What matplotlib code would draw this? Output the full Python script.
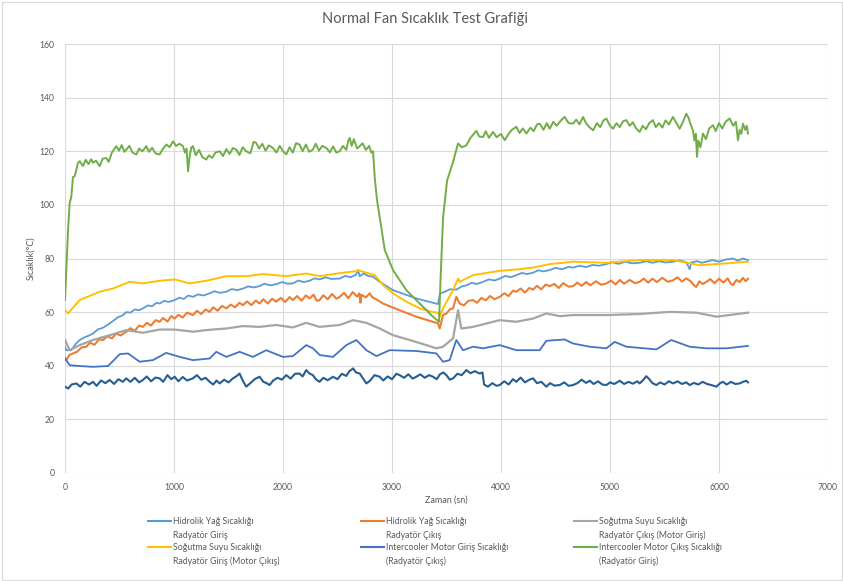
import matplotlib
matplotlib.use("Agg")
import matplotlib.pyplot as plt
from matplotlib.lines import Line2D
from matplotlib.patches import Rectangle

plt.rcParams['font.family'] = ['Lato', 'DejaVu Sans']

# ---------------- data ----------------
# Hidrolik Yağ Sıcaklığı - Radyatör Giriş (light blue)
lb_t = [0, 12, 58, 95, 135, 175, 215, 257, 300, 350, 410, 450, 490, 530, 562, 600, 640, 680, 715, 760, 800, 840,
        868, 910, 950, 1006, 1050, 1090, 1130, 1174, 1220, 1270, 1327, 1370, 1420, 1480, 1530, 1580, 1633, 1680,
        1730, 1785, 1830, 1880, 1938, 1990, 2040, 2091, 2140, 2190, 2244, 2290, 2337, 2390, 2440, 2520, 2570,
        2620, 2670, 2688, 2704, 2740, 2780, 2826, 2887, 3009, 3223, 3422, 3440, 3480, 3530, 3590, 3640, 3682,
        3730, 3780, 3835, 3890, 3940, 3988, 4040, 4090, 4141, 4190, 4240, 4294, 4340, 4390, 4447, 4500, 4560,
        4620, 4661, 4720, 4780, 4840, 4900, 4967, 5020, 5080, 5140, 5200, 5272, 5330, 5390, 5450, 5510, 5578,
        5640, 5700, 5731, 5745, 5800, 5840, 5884, 5940, 6000, 6060, 6129, 6170, 6220, 6266]
lb_v = [47, 45.8, 45.8, 48, 49.6, 50.5, 51.2, 52, 53.5, 54.2, 55.8, 57, 58.2, 58.8, 60, 59.8, 61, 60.7, 61.4, 62.5,
        62.2, 63.5, 63.2, 64.2, 63.8, 64.5, 65.4, 64.9, 66.2, 65.7, 66.6, 66.2, 67, 67.8, 67.2, 67.6, 68.6, 68.2,
        68.8, 69.6, 69.2, 69.7, 70.6, 70, 70.4, 71.2, 70.6, 70.7, 71.8, 71.2, 71.7, 72.6, 72.2, 73, 72.4, 72.5,
        73.5, 73, 74, 75.7, 73.4, 74.4, 73.5, 73.2, 71.3, 68.2, 65.1, 63, 67, 67.5, 68.5, 68.4, 69.6, 70, 70.9,
        70.5, 71.3, 72.2, 71.8, 72.5, 73.5, 73, 73.8, 74.6, 74.2, 74.7, 75.6, 75.2, 75.7, 76.5, 76, 76.9, 76.6,
        77.3, 76.8, 77.6, 77.3, 77.9, 78.6, 78, 78.8, 78.2, 78.4, 79, 78.4, 79, 78.5, 78.8, 79.3, 78.6, 76, 78.5,
        79, 78.4, 78.8, 79.4, 78.8, 79.6, 80, 79.2, 80, 79.4]

# Hidrolik Yağ Sıcaklığı - Radyatör Çıkış (orange)
or_t = [0, 12, 40, 73, 110, 150, 196, 230, 270, 310, 349, 390, 430, 470, 510, 562, 600, 640, 680, 715, 750, 790,
        830, 868, 900, 940, 975, 1006, 1040, 1080, 1120, 1174, 1210, 1250, 1290, 1327, 1360, 1400, 1440, 1480,
        1520, 1560, 1600, 1633, 1670, 1710, 1750, 1785, 1820, 1860, 1900, 1938, 1980, 2020, 2060, 2091, 2130,
        2170, 2210, 2244, 2280, 2310, 2335, 2370, 2410, 2450, 2490, 2520, 2560, 2600, 2640, 2680, 2700, 2704,
        2710, 2720, 2760, 2796, 2820, 2842, 2918, 3070, 3223, 3422, 3438, 3468, 3500, 3530, 3560, 3590, 3621,
        3660, 3700, 3743, 3780, 3820, 3860, 3900, 3940, 3988, 4030, 4070, 4110, 4141, 4180, 4220, 4260, 4294,
        4330, 4370, 4410, 4447, 4490, 4530, 4570, 4620, 4661, 4700, 4740, 4780, 4820, 4870, 4920, 4967, 5010,
        5050, 5090, 5130, 5180, 5230, 5272, 5310, 5350, 5390, 5430, 5480, 5530, 5578, 5620, 5660, 5700, 5740,
        5770, 5792, 5820, 5850, 5884, 5920, 5960, 6000, 6040, 6080, 6110, 6129, 6160, 6190, 6220, 6245, 6266]
or_v = [43, 42.1, 44, 44.6, 45.2, 46.8, 47.1, 48.6, 47.8, 49.8, 49.6, 51, 50.2, 52, 51.3, 52.7, 54, 53, 55, 54.5,
        56, 55, 57, 56.4, 57.8, 56.5, 58.5, 57.6, 59, 58, 59.8, 58.9, 60.5, 59.3, 61, 60.1, 61.8, 60.5, 62.3,
        61.4, 62.8, 61.8, 63.5, 62.6, 64, 62.6, 64.3, 63.2, 64.8, 63.2, 65, 63.9, 65.3, 63.8, 65.6, 64.5, 66,
        64.3, 66.2, 65.1, 66.5, 64.2, 64.5, 66.3, 64.8, 66.8, 65, 65.7, 67.2, 65.2, 67.5, 65.8, 67, 65.7, 63.5,
        66.5, 65.5, 67, 65.5, 65.1, 63.2, 60.7, 58.3, 55.8, 53.9, 58.9, 59.5, 61, 61.4, 65.7, 63.2, 62.5, 64.2,
        64.5, 63.5, 65.3, 64.4, 66, 64.8, 65.7, 67, 66, 68, 67.6, 68.8, 67.3, 69, 68.4, 69.8, 68.5, 70.3, 69.7,
        70.5, 69, 70.8, 69.5, 69.7, 71, 69.8, 71.2, 70, 71.5, 70.2, 70.7, 71.8, 70.3, 72, 70.6, 72, 70.8, 71.3,
        72.5, 71, 72.5, 71.2, 72.8, 71.3, 71.9, 73, 71.4, 72.6, 71.5, 70, 69.4, 71.5, 70.5, 71.3, 72.3, 70.8,
        72.5, 71, 72.6, 70.5, 70.1, 72, 71.2, 72.8, 71.5, 72.5]

# Soğutma Suyu Sıcaklığı - Radyatör Çıkış (Motor Giriş) (gray)
gr_t = [0, 43, 135, 257, 410, 562, 715, 868, 1006, 1174, 1296, 1480, 1633, 1785, 1938, 2091, 2213, 2335, 2520,
        2643, 2765, 2887, 3009, 3162, 3315, 3407, 3468, 3560, 3606, 3636, 3743, 3988, 4141, 4294, 4416, 4539,
        4661, 4967, 5272, 5547, 5792, 5976, 6266]
gr_v = [49.6, 45.8, 47.7, 49.6, 51.4, 53.3, 52.3, 53.5, 53.5, 52.7, 53.3, 53.9, 54.8, 54.5, 55.2, 54.3, 56, 54.5, 55.2,
        57, 56, 53.9, 51.4, 49.6, 47.7, 46.5, 47.1, 50.2, 60.7, 53.9, 54.5, 57, 56.4, 57.6, 59.5, 58.5,
        58.9, 58.9, 59.3, 60.1, 59.8, 58.3, 59.8]

# Soğutma Suyu Sıcaklığı - Radyatör Giriş (Motor Çıkış) (yellow)
ye_t = [0, 27, 135, 318, 440, 593, 715, 868, 1006, 1143, 1296, 1480, 1663, 1816, 2030, 2213, 2337, 2459, 2612,
        2704, 2765, 2842, 2918, 3009, 3131, 3254, 3376, 3422, 3438, 3468, 3560, 3606, 3621, 3743, 3988, 4141,
        4294, 4447, 4661, 4967, 5272, 5578, 5823, 6037, 6266]
ye_v = [60.7, 59.5, 64.5, 67.6, 68.8, 71.3, 70.7, 71.7, 72.2, 70.7, 71.7, 73.4, 73.4, 74.2, 73.4, 74.4, 73.4, 74.2, 75,
        75.4, 74.7, 73.8, 70.1, 67, 63.9, 61.4, 60, 59.8, 58.3, 61.4, 68.2, 72.5, 71.3, 73.8, 75.4, 75.9,
        76.6, 77.9, 78.8, 78.4, 79.4, 79.4, 77.5, 78.1, 78.8]

# Intercooler Motor Giriş Sıcaklığı (Radyatör Çıkış) (medium blue)
mb_t = [0, 43, 135, 257, 395, 502, 578, 685, 807, 929, 1052, 1174, 1327, 1388, 1480, 1602, 1724, 1846, 1999,
        2091, 2213, 2275, 2337, 2459, 2581, 2673, 2765, 2857, 2979, 3223, 3407, 3468, 3529, 3590, 3651, 3743,
        3835, 3988, 4141, 4355, 4416, 4584, 4661, 4814, 4967, 5043, 5150, 5425, 5562, 5731, 5884, 6068, 6266]
mb_v = [42.7, 40.2, 39.9, 39.6, 39.9, 44.3, 44.6, 41.5, 42.1, 44.8, 43.3, 42.1, 42.7, 45.2, 43.3, 45.2, 43.3, 45.8, 43.3,
        43.6, 47.7, 46.5, 44, 43.3, 47.7, 49.6, 45.8, 43.6, 45.8, 45.5, 44.6, 41.5, 42.1, 49.6, 45.8, 47.1,
        46.5, 47.7, 45.8, 45.8, 49.3, 49.8, 48.3, 47.1, 46.5, 48.9, 47.1, 46.1, 49.6, 47.1, 46.5, 46.5, 47.4]

# unlabeled dark-blue series
db_t = [0, 30, 60, 104, 140, 180, 220, 257, 290, 330, 370, 410, 450, 490, 530, 562, 600, 640, 680, 715, 750, 790,
        830, 868, 900, 940, 975, 1006, 1040, 1080, 1120, 1174, 1210, 1250, 1290, 1327, 1360, 1390, 1419, 1460,
        1500, 1541, 1570, 1602, 1630, 1663, 1700, 1740, 1785, 1820, 1850, 1877, 1910, 1950, 1990, 2030, 2070,
        2110, 2152, 2180, 2213, 2240, 2274, 2300, 2335, 2370, 2410, 2459, 2500, 2540, 2580, 2610, 2643, 2670,
        2704, 2730, 2765, 2800, 2840, 2887, 2920, 2960, 3000, 3040, 3070, 3110, 3150, 3190, 3223, 3260, 3300,
        3340, 3376, 3410, 3440, 3470, 3499, 3530, 3560, 3600, 3640, 3682, 3720, 3760, 3804, 3830, 3845, 3880,
        3920, 3960, 3988, 4030, 4070, 4110, 4141, 4180, 4220, 4260, 4294, 4330, 4370, 4416, 4450, 4490, 4539,
        4580, 4620, 4661, 4700, 4740, 4780, 4814, 4850, 4890, 4930, 4967, 5000, 5040, 5089, 5130, 5170, 5210,
        5250, 5272, 5300, 5333, 5360, 5390, 5425, 5460, 5500, 5540, 5578, 5620, 5660, 5700, 5731, 5770, 5810,
        5850, 5890, 5930, 5976, 6010, 6037, 6070, 6110, 6150, 6190, 6220, 6251, 6266]
db_v = [32.2, 31.5, 33, 33.4, 32.2, 34, 33, 34, 32.5, 34.5, 33.5, 34.7, 33.2, 35, 34, 35.3, 34, 35.5, 33.8, 34.7,
        36, 34.2, 35.6, 35.3, 34, 36.5, 35, 35.9, 34.2, 35.8, 34.5, 35.3, 36.5, 34.8, 35.5, 34, 33, 34.5, 33.4,
        34.8, 33.8, 35.3, 36, 37.1, 34.5, 32.2, 33.5, 35, 35.9, 34, 33.5, 32.8, 34.5, 35.5, 34.8, 36.5, 35.2, 37,
        37.1, 36, 38.4, 37.2, 36.5, 35, 34, 35.5, 34.6, 35.9, 35, 37, 36.2, 38, 39, 37.5, 37.1, 35.5, 33.4, 34.5,
        36.5, 35.9, 34.5, 36, 35, 37, 36.5, 35.5, 36.8, 35.2, 35.9, 36.8, 35.5, 36.5, 35.9, 35, 36.8, 37.5, 36.5,
        34.8, 35.3, 37, 36.5, 38.4, 37.2, 38, 37.1, 37.5, 33, 32.2, 33.5, 32.5, 32.8, 34.2, 33, 35, 34, 35.6,
        33.8, 34.8, 35.3, 33.5, 34, 32.2, 33.5, 32.6, 32.8, 33.8, 32.5, 32.8, 33.5, 34.8, 33.6, 34.4, 33.2, 34.2,
        33, 32.8, 33.8, 33.2, 34.4, 33.2, 34, 33.3, 34.2, 33.4, 34.5, 36.1, 35, 33.5, 32.8, 33.8, 33, 34.2, 33.4,
        34.2, 33.2, 33.8, 32.8, 33.6, 33, 34, 33.2, 32.8, 32.2, 33.5, 34, 33, 34, 33.2, 33.4, 34, 34.4, 33.8]

# Intercooler Motor Çıkış Sıcaklığı (Radyatör Giriş) (green)
gn_t = [0, 28, 43, 58, 73, 89, 119, 135, 165, 190, 215, 240, 257, 285, 318, 345, 379, 400, 430, 471, 495, 520, 545,
        563, 590, 620, 655, 680, 710, 746, 770, 800, 830, 868, 900, 930, 960, 991, 1020, 1050, 1082, 1100, 1115,
        1129, 1145, 1160, 1174, 1200, 1230, 1260, 1296, 1320, 1350, 1380, 1419, 1450, 1480, 1510, 1540, 1572,
        1600, 1630, 1663, 1700, 1730, 1755, 1780, 1810, 1840, 1870, 1908, 1940, 1970, 2000, 2030, 2060, 2090,
        2120, 2152, 2180, 2210, 2240, 2274, 2300, 2330, 2360, 2397, 2430, 2460, 2490, 2520, 2550, 2580, 2600,
        2612, 2630, 2650, 2680, 2704, 2730, 2760, 2790, 2810, 2826, 2842, 2862, 2934, 3009, 3131, 3254, 3376,
        3432, 3444, 3468, 3505, 3560, 3606, 3640, 3682, 3720, 3750, 3774, 3800, 3835, 3860, 3890, 3927, 3960,
        4000, 4034, 4070, 4100, 4141, 4170, 4200, 4233, 4270, 4300, 4330, 4355, 4390, 4420, 4447, 4480, 4510,
        4550, 4584, 4620, 4661, 4690, 4720, 4753, 4780, 4810, 4845, 4880, 4910, 4940, 4967, 5000, 5028, 5060,
        5090, 5120, 5150, 5180, 5210, 5240, 5272, 5300, 5330, 5360, 5394, 5420, 5450, 5480, 5510, 5540, 5578,
        5610, 5639, 5670, 5700, 5720, 5740, 5761, 5775, 5788, 5798, 5810, 5830, 5853, 5880, 5910, 5945, 5970,
        6000, 6030, 6060, 6098, 6130, 6155, 6174, 6190, 6205, 6220, 6240, 6255, 6266]
gn_v = [64.5, 90.6, 100.7, 103, 110.4, 110.7, 115.6, 116.3, 114.5, 116.8, 115.2, 117, 115.7, 116.5, 114.4, 117.2,
        117.5, 116, 119.5, 121.9, 120.2, 122.3, 119.8, 120.6, 122, 119.5, 118.8, 121, 120, 121.9, 119.8, 121.3,
        119.2, 118.8, 121, 122.5, 121.5, 123.7, 122, 122.8, 121.9, 119.5, 121, 112.5, 118.5, 121.5, 121.9, 118.5,
        120.5, 117.8, 116.9, 118.5, 117.5, 119.5, 120, 118.2, 120.8, 119, 121.2, 120.6, 118.6, 121.5, 120, 119.2,
        123.5, 123.1, 121, 122.8, 120.2, 122.2, 121.2, 119.5, 122, 120, 118.8, 121.5, 119.5, 123, 122.5, 120,
        122.5, 119.8, 120.6, 122.8, 120.2, 122, 121.2, 119.6, 121.8, 119.5, 120, 122, 120.5, 124, 125, 122,
        124.5, 121, 121.9, 123, 120.5, 122, 119.5, 120, 110, 102, 83.1, 75.7, 68.2, 63.2, 58.3, 56.4, 70.7, 95,
        109, 116, 122.9, 121.5, 122.2, 125, 126.5, 127.6, 125.5, 125.3, 127.5, 125, 127.2, 125.2, 126.5, 124.1,
        126.5, 128, 129.1, 126.8, 128.5, 126.6, 128.8, 127.5, 130, 130.3, 128, 130.5, 128.4, 131, 129.5, 131.5,
        132.8, 130.5, 130.3, 131.8, 130, 132.8, 130.5, 129, 127.8, 130.5, 129, 131.5, 132.2, 129.5, 128.4, 130.5,
        129, 131.2, 131.6, 129.5, 130.8, 128.5, 127.2, 129.5, 128.2, 130.5, 131.6, 129, 130.5, 128.8, 131.5, 130,
        132.8, 130.5, 128.4, 131, 134, 132.5, 130, 127.8, 124, 126.5, 117.9, 124, 121.5, 126.6, 124.5, 128.5,
        129.7, 127.5, 130.5, 128.5, 131, 132.2, 129.5, 131, 124.1, 128, 126.5, 130.3, 128, 129.5, 126.6]

labels = ["Hidrolik Yağ Sıcaklığı\nRadyatör Giriş",
          "Hidrolik Yağ Sıcaklığı\nRadyatör Çıkış",
          "Soğutma Suyu Sıcaklığı\nRadyatör Çıkış (Motor Giriş)",
          "Soğutma Suyu Sıcaklığı\nRadyatör Giriş (Motor Çıkış)",
          "Intercooler Motor Giriş Sıcaklığı\n(Radyatör Çıkış)",
          "Intercooler Motor Çıkış Sıcaklığı\n(Radyatör Giriş)"]
colors = ["#5B9BD5", "#ED7D31", "#A5A5A5", "#FFC000", "#4472C4", "#70AD47", "#255E91"]

x_ticks = [0, 1000, 2000, 3000, 4000, 5000, 6000, 7000]
y_ticks = [0, 20, 40, 60, 80, 100, 120, 140, 160]

title = "Normal Fan Sıcaklık Test Grafiği"
xlabel = "Zaman (sn)"
ylabel = "Sıcaklık(°C)"

# ---------------- figure ----------------
W, H = 843, 581
fig = plt.figure(figsize=(W / 100, H / 100), dpi=100)
fig.patch.set_facecolor("white")
fig.add_artist(Rectangle((1.5 / W, 1.5 / H), 1 - 3 / W, 1 - 3 / H, transform=fig.transFigure,
                         fill=False, edgecolor="#D9D9D9", linewidth=0.8))

ax = fig.add_axes([65 / W, 1 - 473 / H, (828 - 65) / W, (473 - 44) / H])
series = [(lb_t, lb_v, 1.3), (or_t, or_v, 1.5), (gr_t, gr_v, 1.6), (ye_t, ye_v, 1.4),
          (mb_t, mb_v, 1.3), (gn_t, gn_v, 1.4), (db_t, db_v, 1.5)]
for i, (t, v, lw) in enumerate(series):
    ax.plot(t, v, color=colors[i], linewidth=lw, solid_joinstyle="round")

ax.set_xlim(0, 7000)
ax.set_ylim(0, 160)
ax.set_xticks(x_ticks)
ax.set_yticks(y_ticks)
ax.grid(True, color="#D9D9D9", linewidth=0.8)
ax.set_axisbelow(True)
for s in ax.spines.values():
    s.set_visible(False)
ax.tick_params(length=0, labelsize=6.2, labelcolor="#595959", pad=7.5)

fig.text(425 / W, 1 - 19 / H, title, ha="center", va="center", fontsize=10.5, color="#595959")
fig.text(446 / W, 1 - 500 / H, xlabel, ha="center", va="center", fontsize=6.5, color="#595959")
fig.text(31 / W, 1 - 258 / H, ylabel, ha="center", va="center", rotation=90, fontsize=6.5, color="#595959")

# manual legend (3 columns x 2 rows)
col_x = [148, 361, 574]
row_y = [521, 547]
for k in range(len(labels)):
    cx = col_x[k % 3]
    ry = row_y[k // 3]
    fig.add_artist(Line2D([cx / W, (cx + 23) / W], [1 - ry / H, 1 - ry / H], transform=fig.transFigure,
                          color=colors[k], linewidth=1.5))
    l1, l2 = labels[k].split("\n")
    fig.text((cx + 25) / W, 1 - ry / H, l1, ha="left", va="center", fontsize=6.3, color="#595959")
    fig.text((cx + 25) / W, 1 - (ry + 14) / H, l2, ha="left", va="center", fontsize=6.3, color="#595959")

fig.savefig("out.png", dpi=100)
